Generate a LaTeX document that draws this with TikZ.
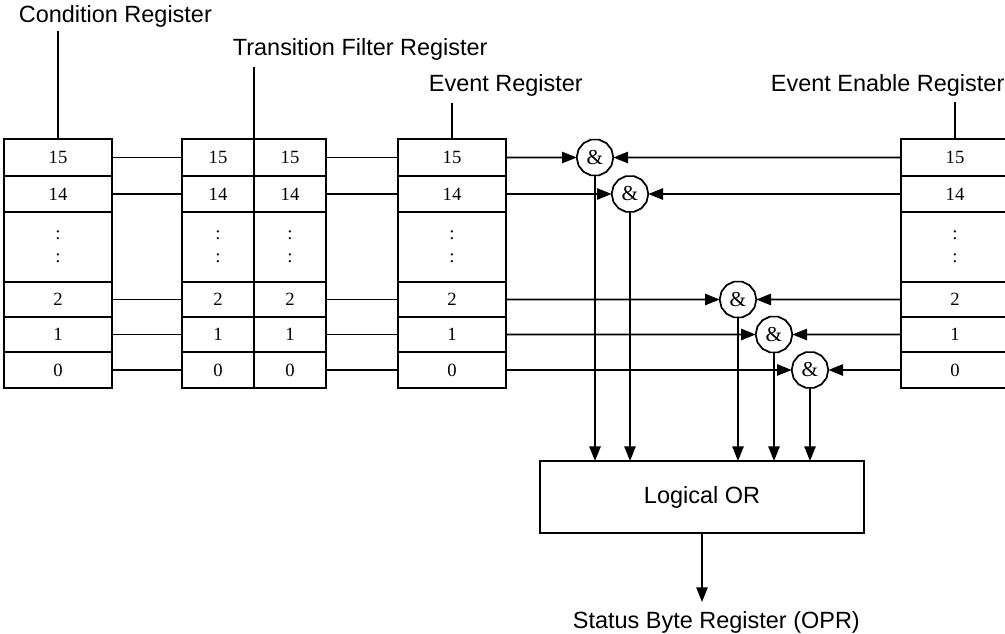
\documentclass[tikz,border=0pt]{standalone}
\usepackage{fontspec}
\setmainfont{Liberation Serif}
\newfontfamily\arialf{Liberation Sans}
\usetikzlibrary{arrows.meta,shapes.geometric}
\tikzset{
  cell/.style={draw, line width=1.3pt, inner sep=0pt, outer sep=0pt, anchor=north west, font=\fontsize{14pt}{16pt}\selectfont},
  num/.style={inner sep=0pt, font=\fontsize{14pt}{16pt}\selectfont},
  gate/.style={regular polygon, regular polygon sides=14, draw, line width=1.3pt, minimum size=27.5pt, inner sep=0pt, outer sep=0pt, fill=white, font=\fontsize{16pt}{18pt}\selectfont},
  arr/.style={-{Triangle[length=11pt,width=8.5pt]}},
  lbl/.style={inner sep=0pt, anchor=base west, font=\arialf\fontsize{17.6pt}{20pt}\selectfont},
  orbox/.style={draw, line width=1.3pt, inner sep=0pt, outer sep=0pt, anchor=north west, font=\arialf\fontsize{17.6pt}{20pt}\selectfont}
}
\newcommand{\regcol}[3]{%
  \foreach \lab/\nm/\tp/\h in {15/15/139/27.75pt, 14/14/176/27pt, {}/dots/212/52.5pt, 2/2/282/26.25pt, 1/1/317/26.25pt, 0/0/352/27pt}{%
    \node[cell, minimum width=#3, minimum height=\h] (#1\nm) at (#2,\tp) {\lab};
  }
  \node[num] (#1colA) at ([yshift=8.6pt]#1dots.center) {:};
  \node[num] (#1colB) at ([yshift=-8.6pt]#1dots.center) {:};
}
\begin{document}
\begin{tikzpicture}[x=0.75pt, y=-0.75pt, line width=1.3pt]
\useasboundingbox (0,0) rectangle (1005,634);
\clip (0,0) rectangle (1005,634);

% registers
\regcol{c}{4}{81pt}
\regcol{ta}{182}{54pt}
\regcol{tb}{254}{54pt}
\regcol{e}{398}{81pt}
\regcol{n}{901}{81pt}

% labels
\node[lbl] (lc) at (18,23) {Condition Register};
\node[lbl] (lt) at (232,56) {Transition Filter Register};
\node[lbl] (le) at (428,92) {Event Register};
\node[lbl] (ln) at (770,92) {Event Enable Register};
\coordinate (cT) at (58,31);
\coordinate (tT) at (254,67);
\coordinate (eT) at (452,103);
\coordinate (nT) at (955,102);
\draw (cT) -- (c15.north);
\draw (tT) -- (ta15.north east);
\draw (eT) -- (e15.north);
\draw (nT) -- (n15.north);

% AND gates
\node[gate] (g15) at (595,157.5) {\&};
\node[gate] (g14) at (630,194) {\&};
\node[gate] (g2) at (738,299.5) {\&};
\node[gate] (g1) at (774,334.5) {\&};
\node[gate] (g0) at (810,370) {\&};

% logical OR
\node[orbox, minimum width=243pt, minimum height=54pt] (or) at (540,461) {Logical OR};
\coordinate (sb) at (702,602);
\node[lbl] (st) at (572,628) {Status Byte Register (OPR)};
\draw[arr] (or.south) -- (sb);

% connectors
\foreach \r in {15,14,2,1,0}{
  \draw (c\r.east) -- (ta\r.west);
  \draw (tb\r.east) -- (e\r.west);
  \draw[arr] (e\r.east) -- (g\r);
  \draw[arr] (n\r.west) -- (g\r);
  \draw[arr] (g\r) -- (g\r |- or.north);
}
\end{tikzpicture}
\end{document}
